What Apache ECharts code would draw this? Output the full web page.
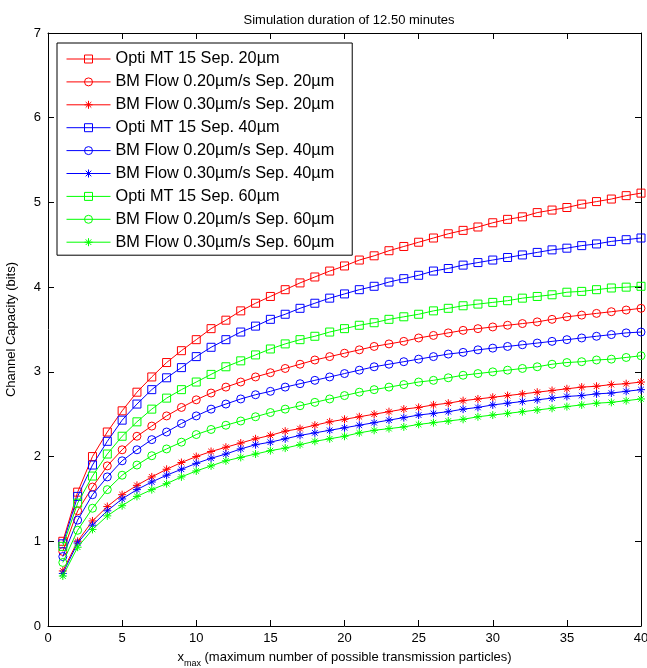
<!DOCTYPE html>
<html><head><meta charset="utf-8">
<script src="https://cdn.jsdelivr.net/npm/echarts@6/dist/echarts.min.js"></script>
<style>html,body{margin:0;padding:0;background:#fff}#c{width:647px;height:668px}</style>
</head><body><div id="c"></div>
<script>
const xs = [1,2,3,4,5,6,7,8,9,10,11,12,13,14,15,16,17,18,19,20,21,22,23,24,25,26,27,28,29,30,31,32,33,34,35,36,37,38,39,40];
const xTicks = [0,5,10,15,20,25,30,35,40];
const yTicks = [0,1,2,3,4,5,6,7];
const names = [
  'Opti MT 15 Sep. 20µm','BM Flow 0.20µm/s Sep. 20µm','BM Flow 0.30µm/s Sep. 20µm',
  'Opti MT 15 Sep. 40µm','BM Flow 0.20µm/s Sep. 40µm','BM Flow 0.30µm/s Sep. 40µm',
  'Opti MT 15 Sep. 60µm','BM Flow 0.20µm/s Sep. 60µm','BM Flow 0.30µm/s Sep. 60µm'
];
const opti20 = [1.00,1.58,2.00,2.29,2.54,2.76,2.94,3.11,3.25,3.38,3.51,3.61,3.72,3.81,3.89,3.97,4.05,4.12,4.19,4.25,4.32,4.37,4.43,4.48,4.53,4.58,4.63,4.67,4.71,4.76,4.80,4.83,4.88,4.91,4.94,4.98,5.01,5.04,5.08,5.11];
const bm20_20 = [0.88,1.36,1.64,1.89,2.08,2.24,2.36,2.48,2.58,2.67,2.75,2.82,2.88,2.94,2.99,3.04,3.09,3.14,3.18,3.22,3.26,3.30,3.33,3.36,3.40,3.43,3.46,3.49,3.51,3.53,3.55,3.57,3.59,3.62,3.65,3.67,3.69,3.71,3.73,3.75];
const bm30_20 = [0.65,1.00,1.24,1.41,1.55,1.66,1.76,1.85,1.93,2.00,2.06,2.11,2.16,2.21,2.25,2.30,2.33,2.37,2.41,2.44,2.47,2.50,2.53,2.56,2.58,2.61,2.63,2.66,2.68,2.70,2.72,2.74,2.76,2.78,2.80,2.82,2.83,2.85,2.86,2.88];
const opti40 = [0.97,1.53,1.90,2.18,2.43,2.62,2.79,2.93,3.05,3.18,3.29,3.38,3.47,3.54,3.62,3.68,3.75,3.81,3.87,3.92,3.97,4.01,4.06,4.10,4.14,4.19,4.22,4.26,4.29,4.32,4.35,4.38,4.41,4.44,4.46,4.49,4.51,4.54,4.56,4.58];
const bm20_40 = [0.82,1.25,1.55,1.76,1.95,2.08,2.20,2.29,2.39,2.48,2.56,2.62,2.68,2.73,2.77,2.82,2.86,2.90,2.94,2.98,3.02,3.06,3.09,3.12,3.15,3.18,3.21,3.23,3.26,3.28,3.30,3.32,3.34,3.36,3.38,3.40,3.42,3.44,3.46,3.47];
const bm30_40 = [0.62,0.98,1.19,1.36,1.50,1.61,1.70,1.78,1.85,1.92,1.98,2.03,2.09,2.14,2.17,2.21,2.25,2.28,2.31,2.34,2.37,2.40,2.43,2.46,2.49,2.51,2.53,2.56,2.58,2.61,2.63,2.65,2.67,2.69,2.71,2.72,2.74,2.75,2.77,2.79];
const opti60 = [0.94,1.45,1.77,2.03,2.24,2.41,2.56,2.69,2.79,2.88,2.97,3.06,3.13,3.20,3.27,3.33,3.38,3.42,3.47,3.51,3.55,3.58,3.62,3.65,3.68,3.72,3.75,3.78,3.80,3.82,3.84,3.87,3.89,3.91,3.94,3.95,3.97,3.99,4.00,4.01];
const bm20_60 = [0.75,1.13,1.39,1.61,1.78,1.90,2.01,2.09,2.17,2.26,2.32,2.37,2.42,2.47,2.52,2.56,2.60,2.64,2.68,2.72,2.76,2.79,2.82,2.85,2.88,2.90,2.93,2.96,2.98,3.00,3.02,3.04,3.06,3.09,3.11,3.12,3.14,3.15,3.17,3.19];
const bm30_60 = [0.59,0.93,1.14,1.30,1.42,1.53,1.61,1.68,1.76,1.83,1.89,1.95,1.99,2.03,2.07,2.10,2.14,2.18,2.21,2.24,2.28,2.31,2.33,2.35,2.38,2.40,2.42,2.44,2.47,2.49,2.51,2.53,2.55,2.57,2.59,2.61,2.63,2.64,2.66,2.68];

const values = [opti20,bm20_20,bm30_20,opti40,bm20_40,bm30_40,opti60,bm20_60,bm30_60];
const colors = ['#ff0000','#ff0000','#ff0000','#0000ff','#0000ff','#0000ff','#00ff00','#00ff00','#00ff00'];
const STAR = 'path://M5 0L5 10M0 5L10 5M1.5 1.5L8.5 8.5M1.5 8.5L8.5 1.5';
const symbols = ['rect','circle',STAR,'rect','circle',STAR,'rect','circle',STAR];

const FONT = 'Liberation Sans, Arial, Helvetica, sans-serif';
const chart = echarts.init(document.getElementById('c'), null, {renderer:'canvas'});

const series = values.map((v,i)=>({
  name: names[i],
  type: 'line',
  xAxisIndex: 0, yAxisIndex: 0,
  data: xs.map((x,j)=>[x, v[j]]),
  symbol: symbols[i],
  symbolSize: 8,
  showSymbol: true,
  lineStyle: {color: colors[i], width: 1},
  itemStyle: {color: 'rgba(255,255,255,0)', borderColor: colors[i], borderWidth: 1},
  emphasis: {disabled: true},
  z: 2 + i
}));

const axisCommon = {
  axisLine: {show: true, onZero: false, lineStyle: {color: '#000', width: 1}},
  axisTick: {show: true, inside: true, length: 6, lineStyle: {color: '#000'}},
  splitLine: {show: false}
};

chart.setOption({
  animation: false,
  backgroundColor: '#fff',
  textStyle: {fontFamily: FONT},
  title: {
    text: 'Simulation duration of 12.50 minutes',
    left: 344, textAlign: 'center', top: 9,
    textStyle: {fontFamily: FONT, fontSize: 13, fontWeight: 'normal', color: '#000'}
  },
  grid: {left: 48, right: 6, top: 33, bottom: 42, containLabel: false, outerBoundsMode: 'none'},
  legend: {
    orient: 'vertical', left: 57, top: 43,
    padding: [8, 18, 5, 9],
    itemWidth: 44, itemHeight: 10, itemGap: 6.9,
    backgroundColor: '#fff', borderColor: '#000', borderWidth: 1, borderRadius: 0,
    textStyle: {fontFamily: FONT, fontSize: 16.3, color: '#000', lineHeight: 16},
    itemStyle: {borderWidth: 1},
    lineStyle: {width: 1},
    data: names
  },
  xAxis: [
    Object.assign({
      type: 'value', position: 'bottom', min: 0, max: 40, interval: 5,
      name: '{x|x}{s|max} (maximum number of possible transmission particles)',
      nameLocation: 'middle', nameGap: 21,
      nameTextStyle: {fontFamily: FONT, fontSize: 13, color: '#000',
        rich: {x: {fontFamily: FONT, fontSize: 13, color: '#000'},
               s: {fontFamily: FONT, fontSize: 9, color: '#000', padding: [12,0,0,0]}}},
      axisLabel: {show: true, color: '#000', fontFamily: FONT, fontSize: 13, margin: 6,
        formatter: v => xTicks.includes(v) ? String(v) : ''}
    }, axisCommon),
    Object.assign({
      type: 'value', position: 'top', min: 0, max: 40, interval: 5,
      axisLabel: {show: false}
    }, axisCommon)
  ],
  yAxis: [
    Object.assign({
      type: 'value', position: 'left', min: 0, max: 7, interval: 1,
      name: 'Channel Capacity (bits)', nameLocation: 'middle', nameGap: 30,
      nameTextStyle: {fontFamily: FONT, fontSize: 13, color: '#000'},
      axisLabel: {show: true, color: '#000', fontFamily: FONT, fontSize: 13, margin: 7,
        formatter: v => yTicks.includes(v) ? String(v) : ''}
    }, axisCommon),
    Object.assign({
      type: 'value', position: 'right', min: 0, max: 7, interval: 1,
      axisLabel: {show: false}
    }, axisCommon)
  ],
  series: series
});
</script></body></html>
